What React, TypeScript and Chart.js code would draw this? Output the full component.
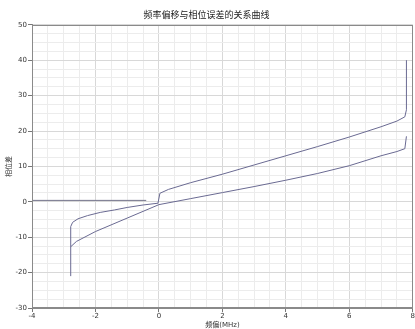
import React, { useEffect, useRef } from "react";
import { Chart, registerables } from "chart.js";

Chart.register(...registerables);

const titleText = "频率偏移与相位误差的关系曲线";
const xTitle = "频偏(MHz)";
const yTitle = "相位差";

const xMin = -4;
const xMax = 8;
const yMin = -30;
const yMax = 50;

const seriesAX = [-2.78, -2.78, -2.72, -2.55, -2.25, -1.85, -1.4, -1.0, -0.5, -0.03, 0.03, 0.3, 1.0, 2.0, 3.0, 4.0, 5.0, 6.0, 7.0, 7.5, 7.75, 7.8, 7.8];
const seriesAY = [-21, -7, -5.8, -4.8, -3.9, -3.0, -2.3, -1.6, -0.9, -0.4, 2.4, 3.5, 5.4, 7.8, 10.4, 13.0, 15.6, 18.3, 21.2, 22.8, 24.0, 26, 40];

const seriesBX = [-2.78, -2.6, -2.0, -1.0, 0, 1, 2, 3, 4, 5, 6, 7, 7.5, 7.75, 7.8];
const seriesBY = [-12.7, -11.2, -8.4, -4.6, -0.8, 0.9, 2.6, 4.3, 6.1, 8.0, 10.2, 13.0, 14.2, 15.0, 18.5];

const baseX = [-4, -0.4];
const baseY = [0.4, 0.4];

const zip = (xs: number[], ys: number[]) => xs.map((x, i) => ({ x, y: ys[i] }));

const FONT = "'DejaVu Sans', 'Noto Sans CJK SC', sans-serif";

const framePlugin = {
  id: "frame",
  afterDraw(chart: any) {
    const { ctx, chartArea } = chart;
    ctx.save();
    ctx.strokeStyle = "#8a8a8a";
    ctx.lineWidth = 1;
    ctx.strokeRect(
      Math.round(chartArea.left) + 0.5,
      Math.round(chartArea.top) + 0.5,
      Math.round(chartArea.right - chartArea.left) - 1,
      Math.round(chartArea.bottom - chartArea.top) - 1
    );
    ctx.restore();
  },
};

export default function App() {
  const ref = useRef<HTMLCanvasElement | null>(null);

  useEffect(() => {
    if (!ref.current) return;
    const isMajorX = (v: number) => Math.abs(v % 2) < 1e-9;
    const isMajorY = (v: number) => Math.abs(v % 10) < 1e-9;
    const lineColor = "#6a6a92";
    const chart = new Chart(ref.current, {
      type: "scatter",
      data: {
        datasets: [
          {
            data: zip(seriesAX, seriesAY),
            showLine: true,
            borderColor: lineColor,
            borderWidth: 1,
            pointRadius: 0,
            tension: 0,
          },
          {
            data: zip(seriesBX, seriesBY),
            showLine: true,
            borderColor: lineColor,
            borderWidth: 1,
            pointRadius: 0,
            tension: 0,
          },
          {
            data: zip(baseX, baseY),
            showLine: true,
            borderColor: "#74748a",
            borderWidth: 1,
            pointRadius: 0,
            tension: 0,
          },
        ],
      },
      options: {
        responsive: false,
        animation: false,
        layout: { padding: { left: 0, right: 2, top: 0, bottom: 0 } },
        plugins: {
          legend: { display: false },
          tooltip: { enabled: false },
          title: {
            display: true,
            text: titleText,
            color: "#222",
            font: { family: FONT, size: 9, weight: "normal" },
            padding: { top: 10, bottom: 4 },
          },
        },
        scales: {
          x: {
            type: "linear",
            min: xMin,
            max: xMax,
            afterFit: (s: any) => {
              s.height = 21;
            },
            ticks: {
              stepSize: 0.5,
              autoSkip: false,
              maxRotation: 0,
              padding: 0,
              color: "#333",
              font: { family: FONT, size: 7 },
              callback: (v: any) => (isMajorX(Number(v)) ? String(v) : ""),
            },
            grid: {
              color: (c: any) => (isMajorX(c.tick?.value ?? 0) ? "#d8d8d8" : "#ececec"),
              tickColor: (c: any) => (isMajorX(c.tick?.value ?? 0) ? "#777" : "rgba(0,0,0,0)"),
              tickLength: 4,
            },
            border: { color: "#8a8a8a" },
            title: {
              display: true,
              text: xTitle,
              color: "#333",
              font: { family: FONT, size: 7 },
              padding: { top: 0, bottom: 0 },
            },
          },
          y: {
            type: "linear",
            min: yMin,
            max: yMax,
            afterFit: (s: any) => {
              s.width = 32;
            },
            ticks: {
              stepSize: 2.5,
              autoSkip: false,
              padding: 1,
              color: "#333",
              font: { family: FONT, size: 7 },
              callback: (v: any) => (isMajorY(Number(v)) ? String(v) : ""),
            },
            grid: {
              color: (c: any) => (isMajorY(c.tick?.value ?? 0) ? "#d8d8d8" : "#ececec"),
              tickColor: (c: any) => (isMajorY(c.tick?.value ?? 0) ? "#777" : "rgba(0,0,0,0)"),
              tickLength: 4,
            },
            border: { color: "#8a8a8a" },
            title: {
              display: true,
              text: yTitle,
              color: "#333",
              font: { family: FONT, size: 7 },
              padding: { top: 5, bottom: 0 },
            },
          },
        },
      },
      plugins: [framePlugin],
    } as any);
    return () => chart.destroy();
  }, []);

  return (
    <div style={{ position: "fixed", left: 0, top: 0, width: 415, height: 329, background: "#fff" }}>
      <canvas ref={ref} width={415} height={329} />
    </div>
  );
}
